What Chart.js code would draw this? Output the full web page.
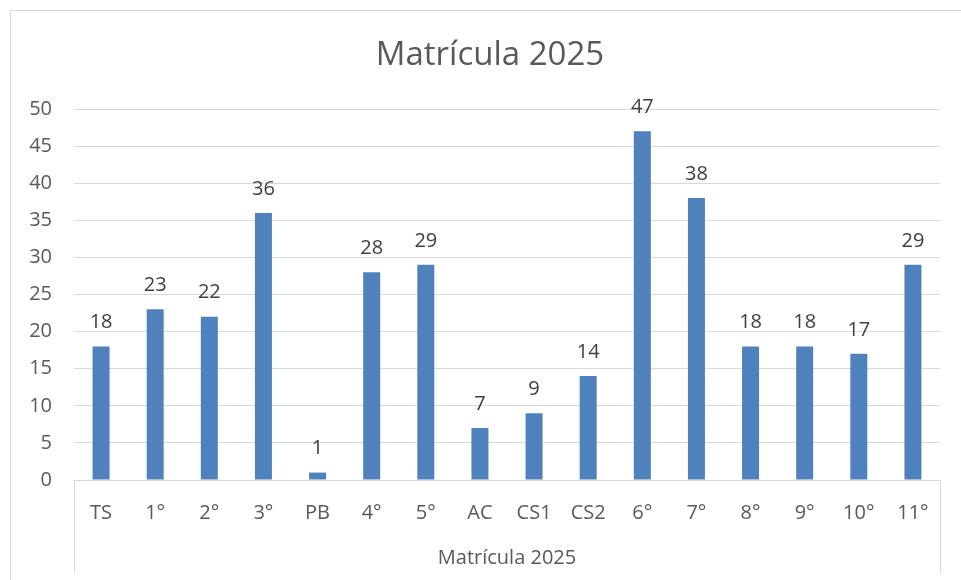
<!DOCTYPE html>
<html>
<head>
<meta charset="utf-8">
<script src="https://cdn.jsdelivr.net/npm/chart.js@4/dist/chart.umd.min.js"></script>
<style>
  html, body { margin: 0; padding: 0; background: #fff; }
  #wrap { width: 961px; height: 580px; position: relative; }
</style>
</head>
<body>
<div id="wrap"><canvas id="matricula"></canvas></div>
<script>
// chart data
const chartTitle = 'Matrícula 2025';
const grupos = ['TS', '1°', '2°', '3°', 'PB', '4°', '5°', 'AC', 'CS1', 'CS2', '6°', '7°', '8°', '9°', '10°', '11°'];
const alumnos = [18, 23, 22, 36, 1, 28, 29, 7, 9, 14, 47, 38, 18, 18, 17, 29];
const yTicks = [0, 5, 10, 15, 20, 25, 30, 35, 40, 45, 50];

const fuente = "'Open Sans', 'Noto Sans', sans-serif";
const gris = '#595959';
const linea = '#d9d9d9';

// frame around the whole chart + the box lines of the category axis
const marco = {
    id: 'marco',
    afterLayout(chart) {
        // the original frame runs past the right edge, so its title sits a bit right of ours
        chart.titleBlock.left += 20;
        chart.titleBlock.right += 20;
    },
    beforeDraw(chart) {
        const c = chart.ctx;
        c.save();
        c.strokeStyle = linea;
        c.lineWidth = 1;
        c.strokeRect(10.5, 10.5, chart.width + 20, chart.height + 20);
        c.restore();
    },
    afterDraw(chart) {
        const c = chart.ctx;
        const a = chart.chartArea;
        const xs = chart.scales.x;
        c.save();
        c.strokeStyle = linea;
        c.lineWidth = 1;
        c.beginPath();
        c.moveTo(Math.round(a.left) + 0.5, a.bottom);
        c.lineTo(Math.round(a.left) + 0.5, xs.bottom - 7);
        c.moveTo(Math.round(a.right) + 0.5, a.bottom);
        c.lineTo(Math.round(a.right) + 0.5, xs.bottom - 7);
        c.stroke();
        c.restore();
    }
};

// value labels above each bar
const etiquetas = {
    id: 'etiquetas',
    afterDatasetsDraw(chart) {
        const c = chart.ctx;
        const meta = chart.getDatasetMeta(0);
        c.save();
        c.font = '20px ' + fuente;
        c.fillStyle = '#404040';
        c.textAlign = 'center';
        c.textBaseline = 'middle';
        meta.data.forEach(function (bar, i) {
            c.fillText(String(alumnos[i]), bar.x, bar.y - 24);
        });
        c.restore();
    }
};

const ctx = document.getElementById('matricula').getContext('2d');

new Chart(ctx, {
    type: 'bar',
    data: {
        labels: grupos,
        datasets: [{
            label: chartTitle,
            data: alumnos,
            backgroundColor: '#4f81bd',
            borderWidth: 0,
            categoryPercentage: 1,
            barPercentage: 0.314
        }]
    },
    options: {
        responsive: true,
        maintainAspectRatio: false,
        animation: false,
        layout: {
            padding: { left: 0, right: 21, top: 0, bottom: 0 }
        },
        plugins: {
            legend: { display: false },
            tooltip: { enabled: false },
            title: {
                display: true,
                text: chartTitle,
                color: gris,
                font: { family: fuente, size: 33, weight: 'normal' },
                padding: { top: 36, bottom: 33.4 }
            }
        },
        scales: {
            x: {
                grid: { display: false, drawTicks: false },
                border: { display: true, color: linea, width: 1 },
                ticks: {
                    color: gris,
                    font: { family: fuente, size: 20 },
                    padding: 21,
                    maxRotation: 0,
                    autoSkip: false
                },
                title: {
                    display: true,
                    text: chartTitle,
                    color: gris,
                    font: { family: fuente, size: 20 },
                    padding: { top: 0, bottom: 10 }
                },
                afterFit: function (scale) {
                    scale.height = 100;
                }
            },
            y: {
                min: 0,
                max: 50,
                afterBuildTicks: function (scale) {
                    scale.ticks = yTicks.map(function (v) { return { value: v }; });
                },
                grid: { color: linea, lineWidth: 1, drawTicks: false },
                border: { display: false },
                ticks: {
                    color: gris,
                    font: { family: fuente, size: 20 },
                    padding: 22
                },
                afterFit: function (scale) {
                    scale.width = 74;
                }
            }
        }
    },
    plugins: [marco, etiquetas]
});
</script>
</body>
</html>
